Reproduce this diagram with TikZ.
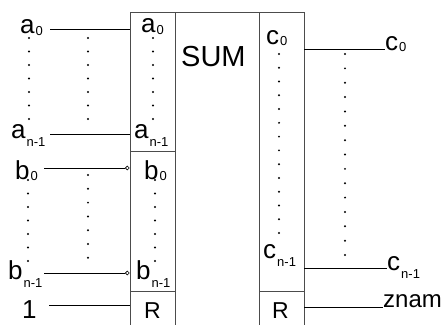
\documentclass[tikz,border=0pt]{standalone}
\usepackage{fontspec}
\setmainfont{Liberation Sans}
\usetikzlibrary{positioning,arrows.meta}
\newcommand{\lowsub}[2][2]{\kern1pt\raisebox{-#1pt}{\fontsize{13}{13}\selectfont #2}}
\tikzset{sig/.style={anchor=base west, inner sep=0pt, font=\fontsize{26}{26}\selectfont},
	wire/.style={line width=0.8pt},
	inv/.style={wire, -{Circle[open, length=4.5pt, line width=0.6pt]}},
	blk/.style={draw=black!70, line width=0.8pt, inner sep=0pt},
	dot/.style={fill=black}}

\begin{document}
\begin{tikzpicture}[x=1pt,y=-1pt]
		\clip (0,0) rectangle (446,324);
		% blocks
		\node[blk, minimum width=45pt, minimum height=139pt] (abox) at (152.5,81.5) {};
		\node[blk, minimum width=45pt, minimum height=140pt] (bbox) at (152.5,221) {};
		\node[blk, minimum width=45pt, minimum height=50pt] (rlbox) at (152.5,316) {};
		\node[blk, minimum width=84pt, minimum height=330pt] (sumbox) at (217,177) {};
		\node[blk, minimum width=45pt, minimum height=279pt] (cbox) at (281.5,151.5) {};
		\node[blk, minimum width=45pt, minimum height=50pt] (rrbox) at (281.5,316) {};

		\begin{scope}[every node/.append style={sig}]
			% inputs
			\node (a0) at (20,33) {a\lowsub{0}};
			\node (an) at (11,138) {a\lowsub[8]{n-1}};
			\node (b0) at (15,179) {b\lowsub[1]{0}};
			\node (bn) at (8,279) {b\lowsub[8]{n-1}};
			\node (one) at (22,318) {1};
			% inside the blocks
			\node (a0i) at (141,32) {a\lowsub{0}};
			\node (ani) at (134,138) {a\lowsub[8]{n-1}};
			\node (b0i) at (144,179) {b\lowsub[1]{0}};
			\node (bni) at (136,279) {b\lowsub[8]{n-1}};
			\node[font=\fontsize{23}{23}\selectfont] (rl) at (144,318) {R};
			\node[font=\fontsize{29}{29}\selectfont] (sum) at (181,66) {SUM};
			\node (c0i) at (266,44) {c\lowsub[1]{0}};
			\node (cni) at (263,258) {c\lowsub[8]{n-1}};
			\node[font=\fontsize{23}{23}\selectfont] (rr) at (272,318) {R};
			% outputs
			\node (c0) at (385,50) {c\lowsub[1]{0}};
			\node (cn) at (387,270) {c\lowsub[8]{n-1}};
			\node[font=\fontsize{24}{24}\selectfont] (znam) at (383,307) {znam};
		\end{scope}

		\coordinate (a0w) at (50,29);
		\coordinate (anw) at (50,134);
		\coordinate (b0w) at (44,168);
		\coordinate (bnw) at (44,273);
		\coordinate (onew) at (49,305);

		\draw[wire] (a0w) -- (a0w -| abox.west);
		\draw[wire] (anw) -- (anw -| abox.west);
		\draw[inv] (b0w) -- (b0w -| bbox.west);
		\draw[inv] (bnw) -- (bnw -| bbox.west);
		\draw[wire] (onew) -- (onew -| rlbox.west);
		\draw[wire] (cbox.east |- 0,49) -- (c0.west |- 0,49);
		\draw[wire] (cbox.east |- 0,268) -- (cn.west |- 0,268);
		\draw[wire] (rrbox.east |- 0,307) -- (znam.west |- 0,307);

		% dots
		\foreach \i in {0,...,6} {
			\fill[dot] (29,38+13.5*\i) circle (1.1pt);
			\fill[dot] (88,38+13.5*\i) circle (1.1pt);
			\fill[dot] (153,38+13.5*\i) circle (1.1pt);
			\fill[dot] (28,180+13.5*\i) circle (1.1pt);
			\fill[dot] (88,175+13.8*\i) circle (1.1pt);
			\fill[dot] (155,180+13.5*\i) circle (1.1pt);
		}
		\foreach \i in {0,...,13}
			\fill[dot] (279,54+13.77*\i) circle (1.1pt);
		\foreach \i in {0,...,14}
			\fill[dot] (345,54+14.36*\i) circle (1.1pt);
	\end{tikzpicture}
\end{document}
